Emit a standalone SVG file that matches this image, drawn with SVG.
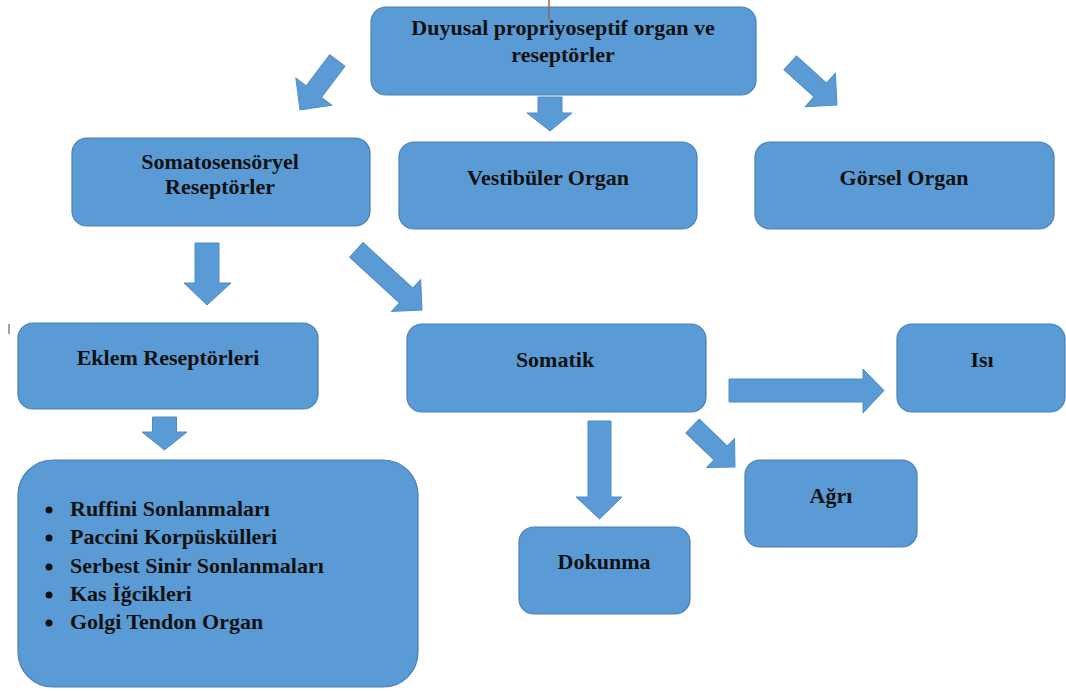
<svg xmlns="http://www.w3.org/2000/svg" width="1066" height="691" viewBox="0 0 1066 691">
<style>
.box{fill:#5b9bd5;stroke:#4a7fb5;stroke-width:1.2}
.arr{fill:#5b9bd5;stroke:#4f8cc6;stroke-width:1}
.t{font-family:"Liberation Serif","Times New Roman",serif;font-weight:bold;font-size:22px;fill:#111}
.c{text-anchor:middle}
</style>
<rect width="1066" height="691" fill="#ffffff"/>
<g id="connectors">
  <!-- top -> Somatosensoryel -->
  <polygon class="arr" transform="translate(300,110) rotate(127)" points="-62,-9.5 -23,-9.5 -23,-22.5 0,0 -23,22.5 -23,9.5 -62,9.5"/>
  <!-- top -> Vestibuler -->
  <polygon class="arr" points="538,97 562,97 562,113 572,113 550,131 527,113 538,113"/>
  <!-- top -> Gorsel -->
  <polygon class="arr" transform="translate(837,105) rotate(42)" points="-63,-9.3 -22.5,-9.3 -22.5,-22.5 0,0 -22.5,22.5 -22.5,9.3 -63,9.3"/>
  <!-- Somatosensoryel -> Eklem -->
  <polygon class="arr" points="195,243 219,243 219,283 231,283 207,305 184,283 195,283"/>
  <!-- Somatosensoryel -> Somatik -->
  <polygon class="arr" transform="translate(422,310) rotate(42.5)" points="-89,-9.9 -21.5,-9.9 -21.5,-21.5 0,0 -21.5,21.5 -21.5,9.9 -89,9.9"/>
  <!-- Eklem -> list -->
  <polygon class="arr" points="152.5,417 176.5,417 176.5,432 187,432 164.5,450 142,432 152.5,432"/>
  <!-- Somatik -> Isi -->
  <polygon class="arr" points="729,379 863,379 863,369 884,390.5 863,413 863,402 729,402"/>
  <!-- Somatik -> Dokunma -->
  <polygon class="arr" points="588,421 611,421 611,497 622,497 599.5,519 576,497 588,497"/>
  <!-- Somatik -> Agri -->
  <polygon class="arr" transform="translate(735,467) rotate(44)" points="-59,-9.6 -20,-9.6 -20,-20 0,0 -20,20 -20,9.6 -59,9.6"/>
</g>
<g id="n-top">
  <rect class="box" x="371" y="7" width="385" height="88" rx="15"/>
  <text class="t c" x="563" y="35">Duyusal propriyoseptif organ ve</text>
  <text class="t c" x="563" y="62">reseptörler</text>
</g>
<line x1="549" y1="0" x2="549" y2="20" stroke="#8b6a4e" stroke-width="1.5"/>
<g id="n-somato">
  <rect class="box" x="72" y="138" width="298" height="88" rx="15"/>
  <text class="t c" x="220" y="169">Somatosensöryel</text>
  <text class="t c" x="220" y="194">Reseptörler</text>
</g>
<g id="n-vest">
  <rect class="box" x="399" y="142" width="298" height="87" rx="15"/>
  <text class="t c" x="548" y="185">Vestibüler Organ</text>
</g>
<g id="n-gorsel">
  <rect class="box" x="755" y="142" width="299" height="87" rx="15"/>
  <text class="t c" x="904" y="185">Görsel Organ</text>
</g>
<line x1="9" y1="324" x2="9" y2="334" stroke="#666" stroke-width="1.2"/>
<g id="n-eklem">
  <rect class="box" x="18" y="323" width="300" height="86" rx="15"/>
  <text class="t c" x="168" y="365">Eklem Reseptörleri</text>
</g>
<g id="n-somatik">
  <rect class="box" x="407" y="324" width="299" height="88" rx="15"/>
  <text class="t c" x="555" y="367">Somatik</text>
</g>
<g id="n-isi">
  <rect class="box" x="897" y="324" width="168" height="88" rx="15"/>
  <text class="t c" x="982" y="367">Isı</text>
</g>
<g id="n-agri">
  <rect class="box" x="745" y="460" width="172" height="87" rx="15"/>
  <text class="t c" x="831" y="503">Ağrı</text>
</g>
<g id="n-dokunma">
  <rect class="box" x="519" y="527" width="171" height="87" rx="15"/>
  <text class="t c" x="604" y="569">Dokunma</text>
</g>
<g id="n-list">
  <rect class="box" x="18" y="460" width="400" height="227" rx="35"/>
  <circle cx="49" cy="510" r="3.5" fill="#111"/>
  <circle cx="49" cy="538" r="3.5" fill="#111"/>
  <circle cx="49" cy="567" r="3.5" fill="#111"/>
  <circle cx="49" cy="595" r="3.5" fill="#111"/>
  <circle cx="49" cy="623" r="3.5" fill="#111"/>
  <text class="t" x="70" y="516">Ruffini Sonlanmaları</text>
  <text class="t" x="70" y="544">Paccini Korpüskülleri</text>
  <text class="t" x="70" y="573">Serbest Sinir Sonlanmaları</text>
  <text class="t" x="70" y="601">Kas İğcikleri</text>
  <text class="t" x="70" y="629">Golgi Tendon Organ</text>
</g>
</svg>
